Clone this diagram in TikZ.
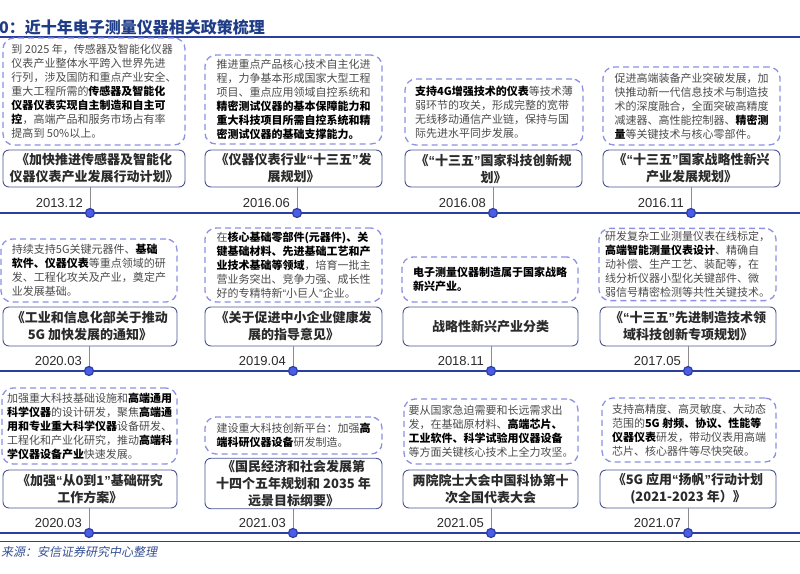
\documentclass[tikz,border=0pt]{standalone}
\usepackage{fontspec}
\setmainfont{Noto Sans CJK SC}
\newfontfamily\datefont{Liberation Sans}
\newfontfamily\srcfont{Noto Sans CJK SC}[FakeSlant=0.2]
\newcommand{\qt}[1]{{\datefont “}#1{\datefont ”}}
\usetikzlibrary{positioning}
\definecolor{tl-blue}{HTML}{2A3F9E}
\definecolor{tl-dot}{HTML}{4B5CE6}
\definecolor{tl-dash}{HTML}{8C91E3}
\definecolor{tl-frame}{HTML}{4A5592}
\definecolor{tl-text}{HTML}{2B2B2B}
\definecolor{tl-title}{HTML}{1F3C88}

\begin{document}
\begin{tikzpicture}[
    x=1pt, y=-1pt,
    % dashed boxes with the policy content
    note/.style={draw=tl-dash, line width=1.3pt, dash pattern=on 6pt off 4pt, rounded corners=11pt,
      align=left, text=tl-text!85, font=\fontsize{11}{14}\selectfont, inner sep=3pt},
    % solid boxes with the document name
    policy/.style={draw=tl-frame, line width=0.9pt, rounded corners=6pt, align=center,
      text=tl-text, font=\fontsize{13}{17}\selectfont\bfseries, inner sep=2pt},
    datelabel/.style={font=\datefont\fontsize{13}{15}\selectfont, text=tl-text, inner sep=1pt},
    dot/.style={circle, draw=tl-blue, fill=tl-dot, line width=1.2pt, minimum size=9pt, inner sep=0pt},
    tline/.style={tl-blue, line width=2pt},
    stem/.style={black!45, line width=0.6pt}
  ]
  \useasboundingbox (0,0) rectangle (800,573);

  % =========================================================================
  % HEADER
  % =========================================================================
  \node[anchor=west, inner sep=0pt, text=tl-title, font=\fontsize{16}{18}\selectfont\bfseries] (title) at (-1,27) {0：近十年电子测量仪器相关政策梳理};
  \coordinate (r0w) at (0,37);
  \coordinate (r0e) at (800,37);
  \draw[tl-blue, line width=1.4pt] (r0w) -- (r0e);

  % =========================================================================
  % ROW 1: 2013.12 - 2016.11
  % =========================================================================
  \coordinate (l1w) at (0,213);
  \coordinate (l1e) at (800,213);
  \coordinate (dA1) at (90,213);
  \coordinate (dA2) at (297,213);
  \coordinate (dA3) at (493,213);
  \coordinate (dA4) at (691,213);

  \node[note, minimum width=182, minimum height=107] (nA1) at (94,91.5) {到 2025 年，传感器及智能化仪器\\仪表产业整体水平跨入世界先进\\行列，涉及国防和重点产业安全、\\重大工程所需的\textbf{\color{black}传感器及智能化}\\\textbf{\color{black}仪器仪表实现自主制造和自主可}\\\textbf{\color{black}控}，高端产品和服务市场占有率\\提高到 50\%以上。};
  \node[policy, minimum width=182, minimum height=37] (pA1) at (94,168.5) {《加快推进传感器及智能化\\仪器仪表产业发展行动计划》};

  \node[note, minimum width=177, minimum height=89] (nA2) at (293.5,99.5) {推进重点产品核心技术自主化进\\程，力争基本形成国家大型工程\\项目、重点应用领域自控系统和\\\textbf{\color{black}精密测试仪器的基本保障能力和}\\\textbf{\color{black}重大科技项目所需自控系统和精}\\\textbf{\color{black}密测试仪器的基础支撑能力。}};
  \node[policy, minimum width=177, minimum height=37] (pA2) at (293.5,168.5) {《仪器仪表行业\qt{十三五}发\\展规划》};

  \node[note, minimum width=178, minimum height=66] (nA3) at (494,112) {\textbf{\color{black}支持4G增强技术的仪表}等技术薄\\弱环节的攻关，形成完整的宽带\\无线移动通信产业链，保持与国\\际先进水平同步发展。};
  \node[policy, minimum width=177, minimum height=37] (pA3) at (493.5,168.5) {《\qt{十三五}国家科技创新规\\划》};

  \node[note, minimum width=177, minimum height=78] (nA4) at (691.5,106) {促进高端装备产业突破发展，加\\快推动新一代信息技术与制造技\\术的深度融合，全面突破高精度\\减速器、高性能控制器、\textbf{\color{black}精密测}\\\textbf{\color{black}量}等关键技术与核心零部件。};
  \node[policy, minimum width=177, minimum height=37] (pA4) at (691.5,168.5) {《\qt{十三五}国家战略性新兴\\产业发展规划》};

  \draw[tline] (l1w) -- (l1e);
  \foreach \k in {A1,A2,A3,A4}
    \draw[stem] (p\k.south -| d\k) -- (d\k);
  \foreach \k/\y in {A1/2013.12,A2/2016.06,A3/2016.08,A4/2016.11} {
    \node[dot] (o\k) at (d\k) {};
    \node[datelabel, above left=4pt and 6pt of d\k] (y\k) {\y};
  }

  % =========================================================================
  % ROW 2: 2020.03 - 2017.05
  % =========================================================================
  \coordinate (l2w) at (0,371);
  \coordinate (l2e) at (800,371);
  \coordinate (dB1) at (89,371);
  \coordinate (dB2) at (293,371);
  \coordinate (dB3) at (491,371);
  \coordinate (dB4) at (688,371);

  \node[note, minimum width=176, minimum height=63] (nB1) at (89,270.5) {持续支持5G关键元器件、\textbf{\color{black}基础}\\\textbf{\color{black}软件、仪器仪表}等重点领域的研\\发、工程化攻关及产业，奠定产\\业发展基础。};
  \node[policy, minimum width=174, minimum height=39] (pB1) at (90,326.5) {《工业和信息化部关于推动\\5G 加快发展的通知》};

  \node[note, minimum width=177, minimum height=74] (nB2) at (293.5,265) {在\textbf{\color{black}核心基础零部件(元器件)、关}\\\textbf{\color{black}键基础材料、先进基础工艺和产}\\\textbf{\color{black}业技术基础等领域}，培育一批主\\营业务突出、竞争力强、成长性\\好的专精特新\qt{小巨人}企业。};
  \node[policy, minimum width=177, minimum height=39] (pB2) at (293.5,326.5) {《关于促进中小企业健康发\\展的指导意见》};

  \node[note, minimum width=176, minimum height=45] (nB3) at (490,279.5) {\textbf{\color{black}电子测量仪器制造属于国家战略}\\\textbf{\color{black}新兴产业。}};
  \node[policy, minimum width=175, minimum height=39] (pB3) at (490.5,326.5) {战略性新兴产业分类};

  \node[note, minimum width=177, minimum height=71] (nB4) at (687.5,264.5) {研发复杂工业测量仪表在线标定，\\\textbf{\color{black}高端智能测量仪表设计}、精确自\\动补偿、生产工艺、装配等，在\\线分析仪器小型化关键部件、微\\弱信号精密检测等共性关键技术。};
  \node[policy, minimum width=176, minimum height=39] (pB4) at (688,326.5) {《\qt{十三五}先进制造技术领\\域科技创新专项规划》};

  \draw[tline] (l2w) -- (l2e);
  \foreach \k in {B1,B2,B3,B4}
    \draw[stem] (p\k.south -| d\k) -- (d\k);
  \foreach \k/\y in {B1/2020.03,B2/2019.04,B3/2018.11,B4/2017.05} {
    \node[dot] (o\k) at (d\k) {};
    \node[datelabel, above left=4pt and 6pt of d\k] (y\k) {\y};
  }

  % =========================================================================
  % ROW 3: 2020.03 - 2021.07
  % =========================================================================
  \coordinate (l3w) at (0,533);
  \coordinate (l3e) at (800,533);
  \coordinate (dC1) at (89,533);
  \coordinate (dC2) at (293,533);
  \coordinate (dC3) at (491,533);
  \coordinate (dC4) at (688,533);

  \node[note, minimum width=175, minimum height=76] (nC1) at (89.5,426) {加强重大科技基础设施和\textbf{\color{black}高端通用}\\\textbf{\color{black}科学仪器}的设计研发，聚焦\textbf{\color{black}高端通}\\\textbf{\color{black}用和专业重大科学仪器}设备研发、\\工程化和产业化研究，推动\textbf{\color{black}高端科}\\\textbf{\color{black}学仪器设备产业}快速发展。};
  \node[policy, minimum width=174, minimum height=38] (pC1) at (90,489) {《加强\qt{从0到1}基础研究\\工作方案》};

  \node[note, minimum width=177, minimum height=37] (nC2) at (293.5,435.5) {建设重大科技创新平台：加强\textbf{\color{black}高}\\\textbf{\color{black}端科研仪器设备}研发制造。};
  \node[policy, minimum width=177, minimum height=49] (pC2) at (293.5,483.5) {《国民经济和社会发展第\\十四个五年规划和 2035 年\\远景目标纲要》};

  \node[note, minimum width=174, minimum height=65] (nC3) at (491,431.5) {要从国家急迫需要和长远需求出\\发，在基础原材料、\textbf{\color{black}高端芯片、}\\\textbf{\color{black}工业软件、科学试验用仪器设备}\\等方面关键核心技术上全力攻坚。};
  \node[policy, minimum width=175, minimum height=38] (pC3) at (490.5,489) {两院院士大会中国科协第十\\次全国代表大会};

  \node[note, minimum width=174, minimum height=64] (nC4) at (689,430) {支持高精度、高灵敏度、大动态\\范围的\textbf{\color{black}5G 射频、协议、性能等}\\\textbf{\color{black}仪器仪表}研发，带动仪表用高端\\芯片、核心器件等尽快突破。};
  \node[policy, minimum width=176, minimum height=38] (pC4) at (688,489) {《5G 应用\qt{扬帆}行动计划\\(2021-2023 年）》};

  \draw[tline] (l3w) -- (l3e);
  \foreach \k in {C1,C2,C3,C4}
    \draw[stem] (p\k.south -| d\k) -- (d\k);
  \foreach \k/\y in {C1/2020.03,C2/2021.03,C3/2021.05,C4/2021.07} {
    \node[dot] (o\k) at (d\k) {};
    \node[datelabel, above left=4pt and 6pt of d\k] (y\k) {\y};
  }

  % =========================================================================
  % FOOTER
  % =========================================================================
  \coordinate (r9w) at (0,541);
  \coordinate (r9e) at (800,541);
  \draw[tl-blue, line width=1pt] (r9w) -- (r9e);
  \node[anchor=west, inner sep=0pt, text=tl-title!90, font=\srcfont\fontsize{12}{14}\selectfont] (source) at (1,552) {来源：安信证券研究中心整理};

\end{tikzpicture}
\end{document}
